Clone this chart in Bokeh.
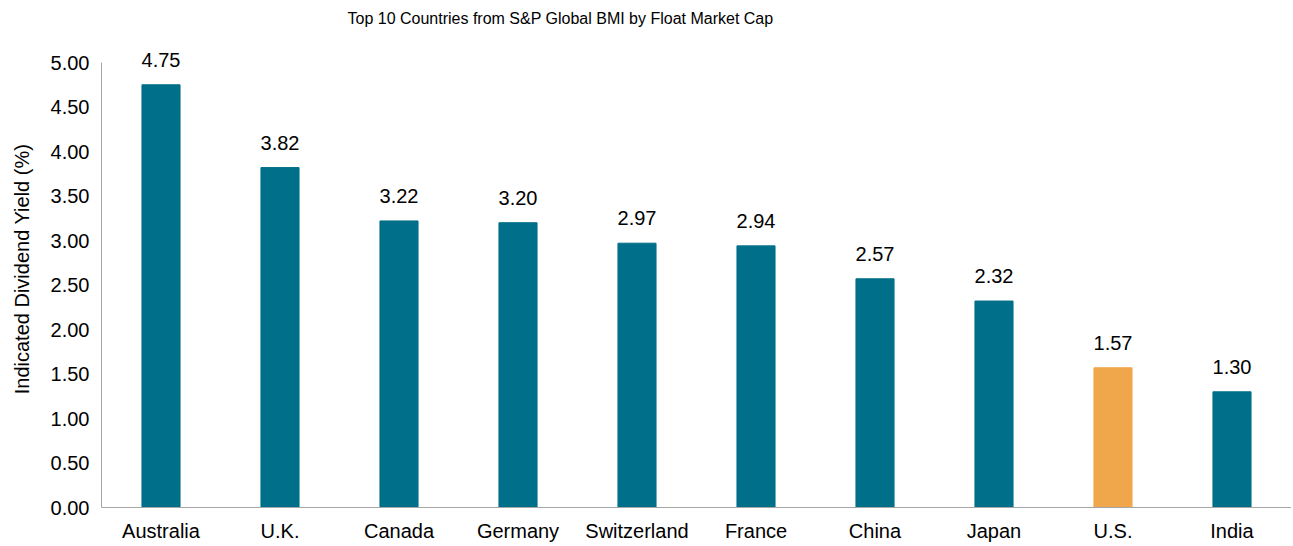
from bokeh.plotting import figure
from bokeh.models import ColumnDataSource, FactorRange, Range1d, FixedTicker, NumeralTickFormatter
from bokeh.core.properties import value
from bokeh.embed import file_html
from bokeh.resources import INLINE

countries = ["Australia", "U.K.", "Canada", "Germany", "Switzerland",
             "France", "China", "Japan", "U.S.", "India"]
yields = [4.75, 3.82, 3.22, 3.20, 2.97, 2.94, 2.57, 2.32, 1.57, 1.30]
TEAL = "#006F89"
ORANGE = "#F0A64A"
colors = [TEAL] * 8 + [ORANGE, TEAL]
labels = [f"{v:.2f}" for v in yields]
y_ticks = [0, 0.5, 1.0, 1.5, 2.0, 2.5, 3.0, 3.5, 4.0, 4.5, 5.0]

FONT = "Liberation Sans"

src = ColumnDataSource(dict(c=countries, v=yields, color=colors, lab=labels))

p = figure(
    x_range=FactorRange(*countries),
    y_range=Range1d(0, 5.36),
    width=1291, height=544,
    output_backend="svg", toolbar_location=None,
    min_border_left=101, min_border_right=0, min_border_top=30, min_border_bottom=36,
    title="Top 10 Countries from S&P Global BMI by Float Market Cap",
)
p.title.text_font = FONT
p.title.text_font_size = "16px"
p.title.text_font_style = "normal"
p.title.text_color = "#000000"
p.title.align = "left"
p.title.offset = 246
p.title.standoff = 7

p.vbar(x="c", top="v", width=0.32, color="color", source=src)
p.text(x="c", y="v", text="lab", source=src, text_align="center",
       text_baseline="alphabetic", y_offset=-25,
       text_font=value(FONT), text_font_size="20px", text_color="#000000")

p.xgrid.visible = False
p.ygrid.visible = False
p.outline_line_color = None

ya = p.yaxis[0]
ya.ticker = FixedTicker(ticks=y_ticks)
ya.formatter = NumeralTickFormatter(format="0.00")
ya.bounds = (0, 5)
ya.major_tick_out = 0
ya.major_tick_in = 0
ya.minor_tick_out = 0
ya.minor_tick_in = 0
ya.major_tick_line_color = None
ya.minor_tick_line_color = None
ya.axis_line_color = "#A6A6A6"
ya.major_label_standoff = 12
ya.major_label_text_font = FONT
ya.major_label_text_font_size = "20px"
ya.major_label_text_color = "#000000"
ya.axis_label = "Indicated Dividend Yield (%)"
ya.axis_label_text_font = FONT
ya.axis_label_text_font_size = "20px"
ya.axis_label_text_font_style = "normal"
ya.axis_label_text_color = "#000000"
ya.axis_label_standoff = 15

xa = p.xaxis[0]
xa.major_tick_out = 0
xa.major_tick_in = 0
xa.minor_tick_out = 0
xa.minor_tick_in = 0
xa.major_tick_line_color = None
xa.minor_tick_line_color = None
xa.axis_line_color = "#A6A6A6"
xa.major_label_standoff = 12
xa.major_label_text_font = FONT
xa.major_label_text_font_size = "20px"
xa.major_label_text_color = "#000000"

open("out.html", "w").write(file_html(p, INLINE))
